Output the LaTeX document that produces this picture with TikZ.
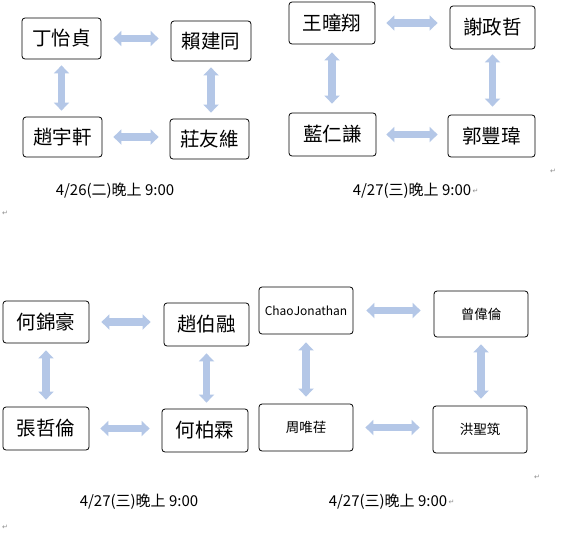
\documentclass[tikz,border=0pt]{standalone}
\usepackage{fontspec}
\setmainfont{Noto Sans CJK TC}
\newfontfamily\symfont{DejaVu Sans}
\usetikzlibrary{arrows.meta}
\definecolor{arrowblue}{RGB}{180,199,231}
\definecolor{markgrey}{RGB}{140,140,140}
\tikzset{
  namebox/.style={draw=black, line width=0.8pt, rounded corners=3pt, inner sep=0pt, font=\fontsize{19.5}{20}\selectfont},
  smallbox/.style={namebox, minimum width=94pt, minimum height=47pt, font=\fontsize{13.5}{14}\selectfont},
  dblarrow/.style={draw=arrowblue, line width=7.5pt, {Triangle[width=15pt,length=8pt]}-{Triangle[width=15pt,length=8pt]}},
  datelabel/.style={inner sep=0pt, font=\fontsize{15}{15}\selectfont},
  retmark/.style={inner sep=0pt, text=markgrey, font=\symfont\fontsize{7}{7}\selectfont}
}
\begin{document}
\begin{tikzpicture}[x=1pt,y=-1pt]
\useasboundingbox[fill=white] (0,0) rectangle (581,533);
% group 1
\node[namebox, minimum width=79pt, minimum height=41pt] (a1) at (61.5,38.5) {丁怡貞};
\node[namebox, minimum width=80pt, minimum height=40pt] (b1) at (211,41) {賴建同};
\node[namebox, minimum width=79pt, minimum height=40pt] (c1) at (62.5,137) {趙宇軒};
\node[namebox, minimum width=79pt, minimum height=40pt] (d1) at (209.5,139) {莊友維};
\draw[dblarrow, shorten <=12pt, shorten >=12pt] (a1.east) -- (a1.east -| b1.west);
\draw[dblarrow, shorten <=6pt, shorten >=6pt] (a1.south) -- (a1.south |- c1.north);
\draw[dblarrow, shorten <=6pt, shorten >=6pt] (b1.south) -- (b1.south |- d1.north);
\draw[dblarrow, shorten <=11pt, shorten >=11pt] (c1.east) -- (c1.east -| d1.west);
\node[datelabel] (t1) at (115,191) {4/26(二)晚上 9:00};
% group 2
\node[namebox, minimum width=86pt, minimum height=42pt] (a2) at (332,23) {王曈翔};
\node[namebox, minimum width=85pt, minimum height=43pt] (b2) at (492.5,27.5) {謝政哲};
\node[namebox, minimum width=87pt, minimum height=43pt] (c2) at (332.5,134.5) {藍仁謙};
\node[namebox, minimum width=87pt, minimum height=42pt] (d2) at (491.5,136) {郭豐瑋};
\draw[dblarrow, shorten <=11pt, shorten >=12pt] (a2.east) -- (a2.east -| b2.west);
\draw[dblarrow, shorten <=8pt, shorten >=9pt] (a2.south) -- (a2.south |- c2.north);
\draw[dblarrow, shorten <=5pt, shorten >=8pt] (b2.south) -- (b2.south |- d2.north);
\draw[dblarrow, shorten <=10pt, shorten >=10pt] (c2.east) -- (c2.east -| d2.west);
\node[datelabel] (t2) at (412,191) {4/27(三)晚上 9:00};
% group 3
\node[namebox, minimum width=86pt, minimum height=42pt] (a3) at (46,322) {何錦豪};
\node[namebox, minimum width=85pt, minimum height=43pt] (b3) at (206.5,324.5) {趙伯融};
\node[namebox, minimum width=86pt, minimum height=43pt] (c3) at (46,428.5) {張哲倫};
\node[namebox, minimum width=86pt, minimum height=43pt] (d3) at (205,430.5) {何柏霖};
\draw[dblarrow, shorten <=12pt, shorten >=13pt] (a3.east) -- (a3.east -| b3.west);
\draw[dblarrow, shorten <=7pt, shorten >=7pt] (a3.south) -- (a3.south |- c3.north);
\draw[dblarrow, shorten <=7pt, shorten >=6pt] (b3.south) -- (b3.south |- d3.north);
\draw[dblarrow, shorten <=11pt, shorten >=12pt] (c3.east) -- (c3.east -| d3.west);
\node[datelabel] (t3) at (139,502) {4/27(三)晚上 9:00};
% group 4
\node[smallbox, font=\fontsize{12}{13}\selectfont] (a4) at (306,310.5) {ChaoJonathan};
\node[smallbox, minimum height=46pt] (b4) at (481,314) {曾偉倫};
\node[smallbox] (c4) at (306,427.5) {周唯荏};
\node[smallbox] (d4) at (480,429.5) {洪聖筑};
\draw[dblarrow, shorten <=13pt, shorten >=13pt] (a4.east) -- (a4.east -| b4.west);
\draw[dblarrow, shorten <=8pt, shorten >=7pt] (a4.south) -- (a4.south |- c4.north);
\draw[dblarrow, shorten <=7pt, shorten >=7pt] (b4.south) -- (b4.south |- d4.north);
\draw[dblarrow, shorten <=12pt, shorten >=13pt] (c4.east) -- (c4.east -| d4.west);
\node[datelabel] (t4) at (388,502) {4/27(三)晚上 9:00};
% paragraph marks
\node[retmark, anchor=west] (r2) at ([xshift=1pt]t2.east) {↵};
\node[retmark, anchor=west] (r4) at ([xshift=1pt]t4.east) {↵};
\node[retmark] (m1) at (5,213) {↵};
\node[retmark] (m2) at (553,171) {↵};
\node[retmark] (m3) at (5,527) {↵};
\node[retmark] (m4) at (537,477) {↵};
\end{tikzpicture}
\end{document}
